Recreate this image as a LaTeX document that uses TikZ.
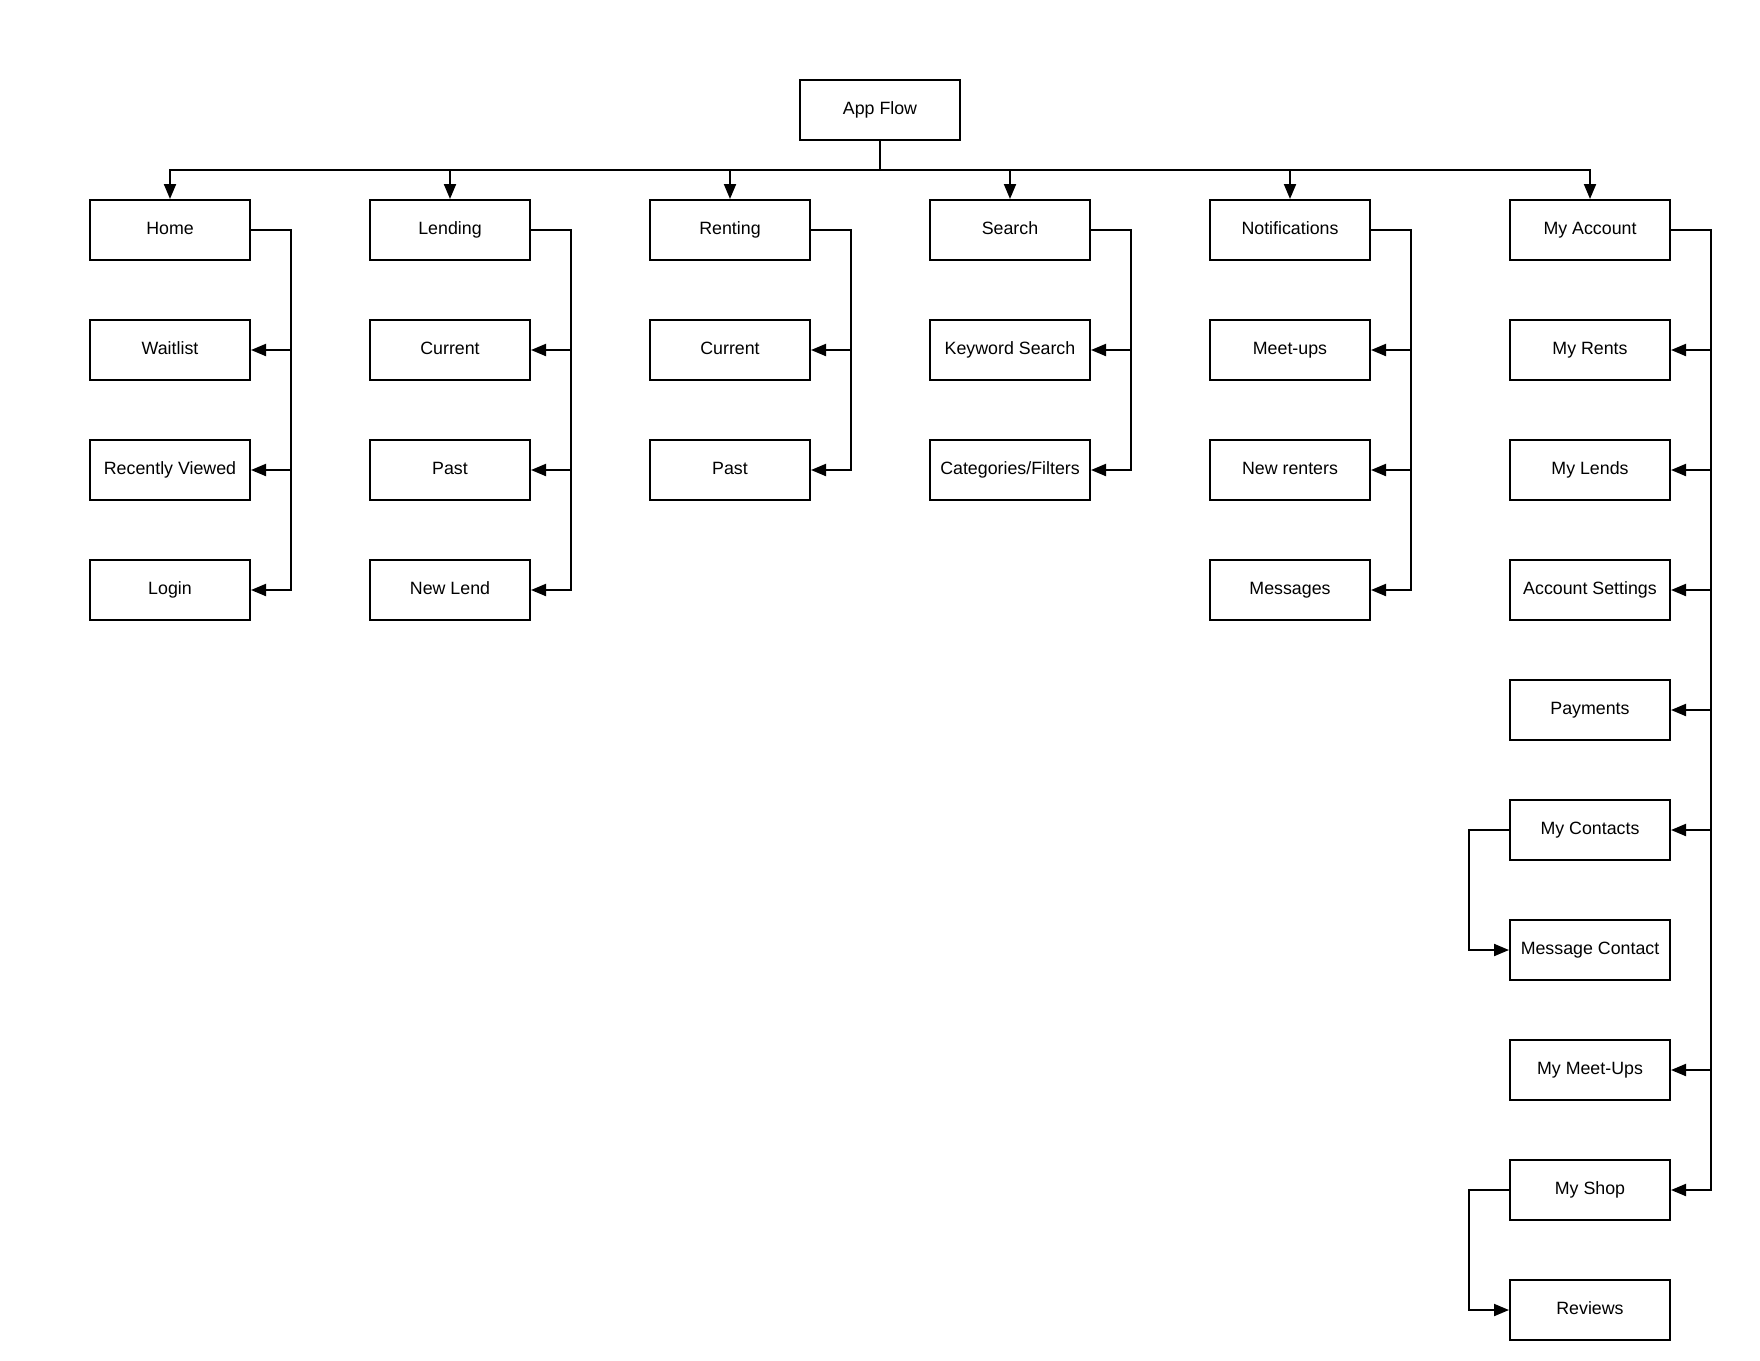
\documentclass[tikz,border=0pt]{standalone}
\usepackage{fontspec}
\setmainfont{Liberation Sans}
\usetikzlibrary{arrows.meta,calc}
\begin{document}
\begin{tikzpicture}[x=1pt,y=-1pt,
  box/.style={draw=black,line width=2pt,rectangle,minimum width=160pt,minimum height=60pt,inner sep=0pt,
    text height=13pt,text depth=4.2pt,
    font=\fontsize{17.8pt}{20pt}\selectfont,text=black},
  conn/.style={draw=black,line width=2pt},
  arr/.style={conn,-{Triangle[length=15pt,width=12pt]}}]
\useasboundingbox (0,0) rectangle (1760,1360);
% top
\node[box] (app) at (880,110) {App Flow};
\coordinate (bus) at (880,170);
% column 1
\node[box] (home) at (170,230) {Home};
\node[box] (waitlist) at (170,350) {Waitlist};
\node[box] (recent) at (170,470) {Recently Viewed};
\node[box] (login) at (170,590) {Login};
% column 2
\node[box] (lending) at (450,230) {Lending};
\node[box] (lcur) at (450,350) {Current};
\node[box] (lpast) at (450,470) {Past};
\node[box] (lnew) at (450,590) {New Lend};
% column 3
\node[box] (renting) at (730,230) {Renting};
\node[box] (rcur) at (730,350) {Current};
\node[box] (rpast) at (730,470) {Past};
% column 4
\node[box] (search) at (1010,230) {Search};
\node[box] (kw) at (1010,350) {Keyword Search};
\node[box] (cat) at (1010,470) {Categories/Filters};
% column 5
\node[box] (notif) at (1290,230) {Notifications};
\node[box] (meet) at (1290,350) {Meet-ups};
\node[box] (newr) at (1290,470) {New renters};
\node[box] (msgs) at (1290,590) {Messages};
% column 6
\node[box] (acct) at (1590,230) {My Account};
\node[box] (rents) at (1590,350) {My Rents};
\node[box] (lends) at (1590,470) {My Lends};
\node[box] (settings) at (1590,590) {Account Settings};
\node[box] (pay) at (1590,710) {Payments};
\node[box] (contacts) at (1590,830) {My Contacts};
\node[box] (msgc) at (1590,950) {Message Contact};
\node[box] (mymeet) at (1590,1070) {My Meet-Ups};
\node[box] (shop) at (1590,1190) {My Shop};
\node[box] (reviews) at (1590,1310) {Reviews};
% top connectors
\draw[conn] (app.south) -- (bus);
\foreach \c in {home,lending,renting,search,notif,acct}
  \draw[arr] (bus) -| (\c.north);
% side branches
\foreach \p/\c in {home/waitlist,home/recent,home/login,
                   lending/lcur,lending/lpast,lending/lnew,
                   renting/rcur,renting/rpast,
                   search/kw,search/cat,
                   notif/meet,notif/newr,notif/msgs,
                   acct/rents,acct/lends,acct/settings,acct/pay,acct/contacts,acct/mymeet,acct/shop}
  \draw[arr] (\p.east) -- ++(40,0) |- (\c.east);
\draw[arr] (contacts.west) -- ++(-40,0) |- (msgc.west);
\draw[arr] (shop.west) -- ++(-40,0) |- (reviews.west);
\end{tikzpicture}
\end{document}
